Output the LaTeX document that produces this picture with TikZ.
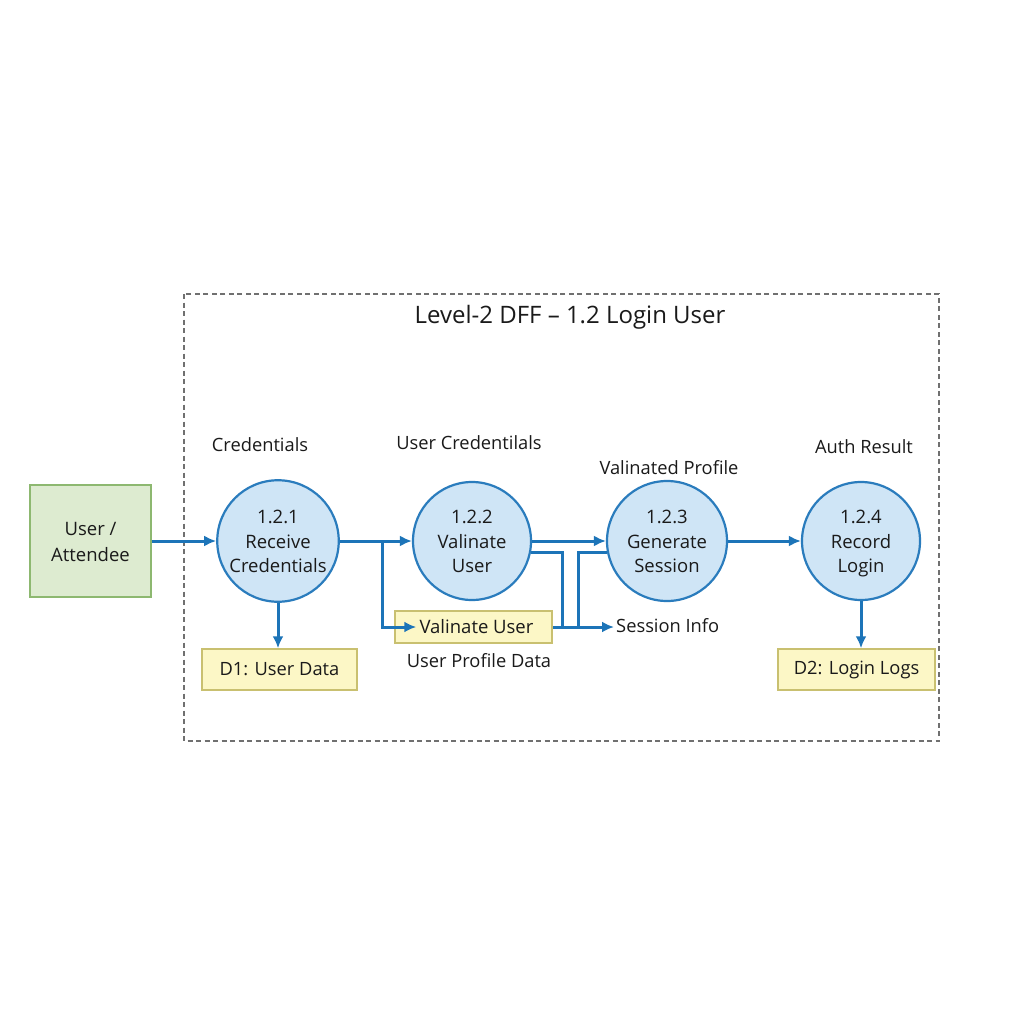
\documentclass[tikz,border=0pt]{standalone}
\usepackage{fontspec}
\setmainfont{Open Sans}
\usetikzlibrary{arrows.meta}
\definecolor{flowc}{HTML}{1C74B8}
\definecolor{procfill}{HTML}{CFE5F6}
\definecolor{procline}{HTML}{2A7CBD}
\definecolor{extfill}{HTML}{DDEBD0}
\definecolor{extline}{HTML}{8DB870}
\definecolor{storefill}{HTML}{FCF7C6}
\definecolor{storeline}{HTML}{C9C070}
\definecolor{framec}{HTML}{707070}
\definecolor{txt}{HTML}{1A1A1A}
\newcommand{\mystr}{\rule[-5pt]{0pt}{24.5pt}}
\begin{document}
\begin{tikzpicture}[x=1pt,y=-1pt,
  every node/.style={text=txt},
  proc/.style={circle,draw=procline,fill=procfill,line width=2.2pt,minimum size=118pt,inner sep=0pt,align=center,font=\fontsize{18.5}{24.5}\selectfont},
  ext/.style={rectangle,draw=extline,fill=extfill,line width=1.5pt,minimum width=121pt,minimum height=112pt,align=center,font=\fontsize{18.5}{24}\selectfont},
  store/.style={rectangle,draw=storeline,fill=storefill,line width=1.5pt,minimum height=41pt,align=center,font=\fontsize{18.3}{22}\selectfont},
  lbl/.style={font=\fontsize{18.3}{22}\selectfont,inner sep=2pt},
  flowline/.style={draw=flowc,line width=3pt,-{Latex[length=12pt,width=11pt]}},
  plainline/.style={draw=flowc,line width=3pt},
]
\useasboundingbox[fill=white] (0,0) rectangle (1024,1024);
% frame
\draw[framec,line width=1.4pt,dash pattern=on 5pt off 3.5pt] (184,294) rectangle (939,741);
\node[font=\fontsize{24}{28}\selectfont] (title) at (570,317) {Level-2 DFF – 1.2 Login User};
% external entity
\node[ext] (user) at (90.5,541) {\mystr User /\\\mystr Attendee};
% processes
\node[proc] (p1) at (278,541) {\mystr 1.2.1\\\mystr Receive\\\mystr Credentials};
\node[proc] (p2) at (472,541) {\mystr 1.2.2\\\mystr Valinate\\\mystr User};
\node[proc,minimum size=120pt] (p3) at (667,541) {\mystr 1.2.3\\\mystr Generate\\\mystr Session};
\node[proc] (p4) at (861,541) {\mystr 1.2.4\\\mystr Record\\\mystr Login};
% stores
\node[store,minimum width=155pt] (d1) at (279.5,669.5) {D1: User Data};
\node[store,minimum width=157pt] (d2) at (856.5,669.5) {D2: Login Logs};
\node[store,minimum width=157pt,minimum height=32pt,font=\fontsize{18.5}{22}\selectfont] (vbox) at (473.5,627) {\hspace*{6pt}Valinate User};
% labels
\node[lbl] (lcred) at (260,445) {Credentials};
\node[lbl] (lucred) at (469,443) {User Credentilals};
\node[lbl] (lvprof) at (669,468) {Valinated Profile};
\node[lbl] (lauth) at (864,447) {Auth Result};
\node[lbl] (lupd) at (479,661) {User Profile Data};
\node[lbl,anchor=west] (sess) at (614,626) {Session Info};
% junction coordinates
\coordinate (b1) at (382,541);
\coordinate (j1) at (562,627);
\coordinate (j2) at (578,627);
% connectors
\draw[flowline] (user.east) -- (p1.west);
\draw[flowline] (p1.east) -- (p2.west);
\draw[flowline] (b1) |- ([xshift=22pt]vbox.west);
\draw[flowline] (p2.east) -- (p3.west);
\draw[plainline] (p2.-11) -| (j1);
\draw[plainline] (j2) |- (p3.191);
\draw[flowline] (vbox.east) -- (vbox.east -| sess.west);
\draw[flowline] (p3.east) -- (p4.west);
\draw[flowline] (p1.south) -- (p1.south |- d1.north);
\draw[flowline] (p4.south) -- (p4.south |- d2.north);
\end{tikzpicture}
\end{document}
